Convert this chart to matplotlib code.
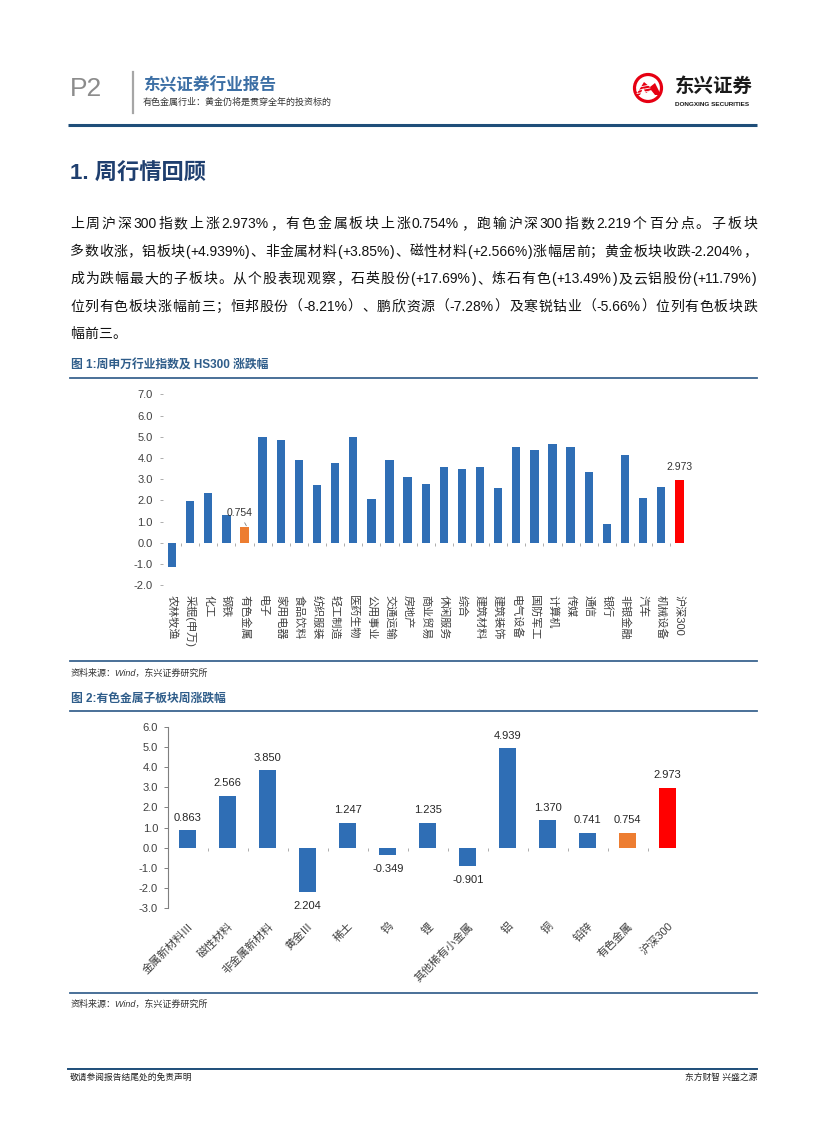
import re
import numpy as np
import matplotlib
matplotlib.use('Agg')
import matplotlib.pyplot as plt
from matplotlib.patches import Circle, Polygon

plt.rcParams['font.family'] = ['Liberation Sans', 'Noto Sans CJK SC', 'DejaVu Sans']

# 图1：申万行业周涨跌幅
industries = ['农林牧渔', '采掘(申万)', '化工', '钢铁', '有色金属', '电子', '家用电器', '食品饮料',
              '纺织服装', '轻工制造', '医药生物', '公用事业', '交通运输', '房地产', '商业贸易',
              '休闲服务', '综合', '建筑材料', '建筑装饰', '电气设备', '国防军工', '计算机', '传媒',
              '通信', '银行', '非银金融', '汽车', '机械设备', '沪深300']
industry_chg = [-1.16, 1.97, 2.34, 1.30, 0.754, 4.98, 4.84, 3.90,
                2.72, 3.76, 4.98, 2.06, 3.90, 3.10, 2.77,
                3.57, 3.47, 3.57, 2.58, 4.51, 4.37, 4.65, 4.51,
                3.33, 0.88, 4.14, 2.11, 2.63, 2.973]

# 图2：有色金属子板块周涨跌幅
sub_sectors = ['金属新材料Ⅲ', '磁性材料', '非金属新材料', '黄金Ⅲ', '稀土', '钨', '锂',
               '其他稀有小金属', '铝', '铜', '铅锌', '有色金属', '沪深300']
sub_chg = [0.863, 2.566, 3.850, -2.204, 1.247, -0.349, 1.235, -0.901, 4.939, 1.370, 0.741, 0.754, 2.973]
sub_labels = ['0.863', '2.566', '3.850', '2.204', '1.247', '-0.349', '1.235', '-0.901',
              '4.939', '1.370', '0.741', '0.754', '2.973']

body_lines = [
    '上周沪深300指数上涨2.973%，有色金属板块上涨0.754%，跑输沪深300指数2.219个百分点。子板块',
    '多数收涨，铝板块(+4.939%)、非金属材料(+3.85%)、磁性材料(+2.566%)涨幅居前；黄金板块收跌-2.204%，',
    '成为跌幅最大的子板块。从个股表现观察，石英股份(+17.69%)、炼石有色(+13.49%)及云铝股份(+11.79%)',
    '位列有色板块涨幅前三；恒邦股份（-8.21%）、鹏欣资源（-7.28%）及寒锐钴业（-5.66%）位列有色板块跌',
    '幅前三。',
]

BLUE = '#2F6EB5'
ORANGE = '#ED7D31'
RED = '#FF0000'
NAVY = '#1F4E79'
TITLE_BLUE = '#2F5D8A'
GREY = '#404040'

W, H = 827, 1122
fig = plt.figure(figsize=(W / 100, H / 100), dpi=100)
bg = fig.add_axes([0, 0, 1, 1])
bg.set_xlim(0, W)
bg.set_ylim(H, 0)
bg.axis('off')


def px_axes(x0, y0, x1, y1):
    return fig.add_axes([x0 / W, 1 - y1 / H, (x1 - x0) / W, (y1 - y0) / H])


# 页眉
bg.text(70, 89, 'P2', fontsize=19, color='#8C8C8C', va='center', ha='left')
bg.plot([133, 133], [72, 113], color='#A6A6A6', lw=1.6)
bg.text(143, 85, '东兴证券行业报告', fontsize=12, fontweight='bold', color='#3C6FA5', va='center')
bg.text(143, 102, '有色金属行业：黄金仍将是贯穿全年的投资标的', fontsize=6.5, color='#333333', va='center')
bg.plot([68, 757], [124.5, 124.5], color=NAVY, lw=2.2, solid_capstyle='butt')

# logo
bg.add_patch(Circle((648, 88), 13.5, fill=False, edgecolor='#E60012', lw=2.3))
bg.add_patch(Polygon([(636, 95), (644, 82), (650, 87), (655, 83), (661, 95), (655, 95),
                      (651, 90), (646, 93), (643, 88), (640, 95)], closed=True,
                     facecolor='#E60012', edgecolor='none'))
for dy in (86.5, 89.5, 92.5):
    bg.plot([637, 650], [dy + 1, dy - 1.5], color='white', lw=0.6)
bg.text(675, 87, '东兴证券', fontsize=14, fontweight='bold', color='#1A1A1A', va='center')
bg.text(675, 104, 'DONGXING SECURITIES', fontsize=4.6, fontweight='bold', color='#1A1A1A', va='center')

# 正文
bg.text(70, 174, '1. 周行情回顾', fontsize=16, fontweight='bold', color='#1F3F6F', va='center')

renderer = fig.canvas.get_renderer()


def justified(y, line, x0=70, x1=757, size=10, justify=True):
    tokens = re.findall(r'[A-Za-z0-9.%+\-]+|.', line)
    items = []
    for tok in tokens:
        t = bg.text(0, y, tok, fontsize=size, color='#111111', va='center', ha='left')
        items.append((t, t.get_window_extent(renderer).width))
    total = sum(w for _, w in items)
    gap = (x1 - x0 - total) / (len(items) - 1) if justify and len(items) > 1 else 0.4
    x = x0
    for t, w in items:
        t.set_x(x)
        x += w + gap


for i, line in enumerate(body_lines):
    justified(224 + i * 27.5, line, justify=(i < len(body_lines) - 1))

# 图1
bg.text(71, 366, '图 1:周申万行业指数及 HS300 涨跌幅', fontsize=8.5, fontweight='bold', color=TITLE_BLUE, va='center')
bg.plot([70, 757], [378, 378], color='#3A6590', lw=1.3)
bg.plot([70, 757], [660.5, 660.5], color='#3A6590', lw=1.3)
bg.text(71, 673, '资料来源：Wind，东兴证券研究所', fontsize=6.5, style='italic', color='#333333', va='center')

ax1 = px_axes(163, 394.3, 688.4, 585.3)
n1 = len(industries)
x1 = np.arange(n1)
colors1 = [BLUE] * n1
colors1[industries.index('有色金属')] = ORANGE
colors1[-1] = RED
ax1.bar(x1, industry_chg, width=0.46, color=colors1)
ax1.set_xlim(-0.5, n1 - 0.5)
ax1.set_ylim(-2, 7)
ax1.set_yticks(np.arange(-2, 7.5, 1))
ax1.set_yticklabels([f'{v:.1f}' for v in np.arange(-2, 7.5, 1)])
for s in ax1.spines.values():
    s.set_visible(False)
ax1.tick_params(axis='y', length=2.5, width=0.6, color='#A0A0A0', pad=5, labelsize=8, labelcolor=GREY)
ax1.set_xticks(x1)
ax1.set_xticklabels(industries, rotation=-90, fontsize=8, color=GREY)
ax1.tick_params(axis='x', length=0, pad=7)
ax1.vlines(x1[:-1] + 0.5, -0.14, 0, color='#A0A0A0', lw=0.6)
i_nf = industries.index('有色金属')
ax1.annotate('0.754', xy=(i_nf + 0.1, industry_chg[i_nf] + 0.05), xytext=(i_nf - 0.3, 1.43),
             fontsize=7.5, color='#333333', ha='center', va='center',
             arrowprops=dict(arrowstyle='-', color='#808080', lw=0.6, shrinkA=2, shrinkB=0))
ax1.annotate('2.973', xy=(n1 - 1, industry_chg[-1]), xytext=(0, 9), textcoords='offset points',
             fontsize=7.5, color='#333333', ha='center', va='center')

# 图2
bg.text(71, 698.5, '图 2:有色金属子板块周涨跌幅', fontsize=8.5, fontweight='bold', color=TITLE_BLUE, va='center')
bg.plot([70, 757], [710.5, 710.5], color='#3A6590', lw=1.3)
bg.plot([70, 757], [993, 993], color='#3A6590', lw=1.3)
bg.text(71, 1004, '资料来源：Wind，东兴证券研究所', fontsize=6.5, style='italic', color='#333333', va='center')

ax2 = px_axes(167.7, 726.7, 687.7, 908.3)
n2 = len(sub_sectors)
x2 = np.arange(n2)
colors2 = [BLUE] * n2
colors2[sub_sectors.index('有色金属')] = ORANGE
colors2[-1] = RED
ax2.bar(x2, sub_chg, width=0.42, color=colors2)
ax2.set_xlim(-0.5, n2 - 0.5)
ax2.set_ylim(-3, 6)
ax2.set_yticks(np.arange(-3, 6.5, 1))
ax2.set_yticklabels([f'{v:.1f}' for v in np.arange(-3, 6.5, 1)])
for name in ['top', 'right', 'bottom']:
    ax2.spines[name].set_visible(False)
ax2.spines['left'].set_color('#7F7F7F')
ax2.spines['left'].set_linewidth(0.8)
ax2.tick_params(axis='y', length=3, width=0.7, color='#7F7F7F', pad=4, labelsize=8, labelcolor=GREY)
ax2.set_xticks(x2)
ax2.set_xticklabels(sub_sectors, rotation=45, ha='right', va='top', rotation_mode='anchor',
                    fontsize=8, color=GREY)
ax2.tick_params(axis='x', length=0, pad=9)
ax2.vlines(x2[:-1] + 0.5, -0.15, 0, color='#A0A0A0', lw=0.6)
for xi, v, lab in zip(x2, sub_chg, sub_labels):
    off = 9 if v >= 0 else -10
    ax2.annotate(lab, xy=(xi, v), xytext=(0, off), textcoords='offset points',
                 fontsize=8, color='#262626', ha='center', va='center')

# 页脚
bg.plot([68, 757], [1067.5, 1067.5], color='#9DC3E6', lw=0.6)
bg.plot([68, 757], [1069, 1069], color=NAVY, lw=1.4)
bg.text(70, 1077.5, '敬请参阅报告结尾处的免责声明', fontsize=6.3, color='#222222', va='center')
bg.text(757, 1077.5, '东方财智 兴盛之源', fontsize=6.3, color='#222222', va='center', ha='right')

fig.savefig('out.png', dpi=100)
